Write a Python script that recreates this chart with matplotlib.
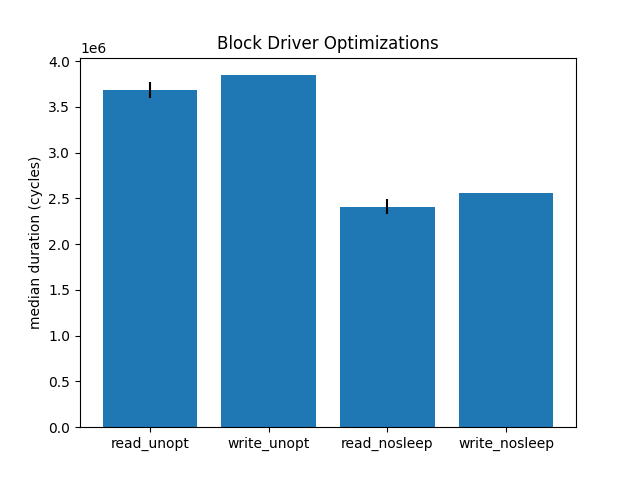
import matplotlib
matplotlib.use('Agg')
import matplotlib.pyplot as plt

# median durations in cycles
labels = ['read_unopt', 'write_unopt', 'read_nosleep', 'write_nosleep']
medians = [3683000, 3845000, 2408000, 2561000]
errors = [87000, 0, 80000, 0]

fig, ax = plt.subplots(figsize=(6.4, 4.8), dpi=100)

ax.bar(labels, medians, yerr=errors)
ax.set_ylabel('median duration (cycles)')
ax.set_title('Block Driver Optimizations')

fig.savefig('out.png')
